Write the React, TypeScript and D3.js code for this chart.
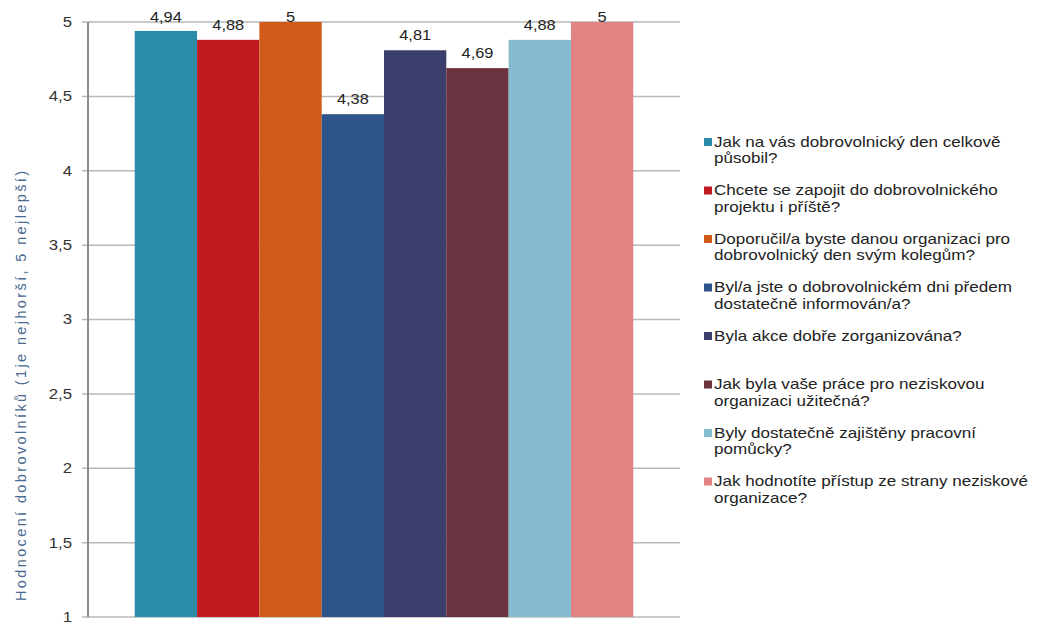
import React from "react";
import * as d3 from "d3";

const categories = [
  "Jak na vás dobrovolnický den celkově působil?",
  "Chcete se zapojit do dobrovolnického projektu i příště?",
  "Doporučil/a byste danou organizaci pro dobrovolnický den svým kolegům?",
  "Byl/a jste o dobrovolnickém dni předem dostatečně informován/a?",
  "Byla akce dobře zorganizována?",
  "Jak byla vaše práce pro neziskovou organizaci užitečná?",
  "Byly dostatečně zajištěny pracovní pomůcky?",
  "Jak hodnotíte přístup ze strany neziskové organizace?",
];
const legendLines = [
  ["Jak na vás dobrovolnický den celkově", "působil?"],
  ["Chcete se zapojit do dobrovolnického", "projektu i příště?"],
  ["Doporučil/a byste danou organizaci pro", "dobrovolnický den svým kolegům?"],
  ["Byl/a jste o dobrovolnickém dni předem", "dostatečně informován/a?"],
  ["Byla akce dobře zorganizována?"],
  ["Jak byla vaše práce pro neziskovou", "organizaci užitečná?"],
  ["Byly dostatečně zajištěny pracovní", "pomůcky?"],
  ["Jak hodnotíte přístup ze strany neziskové", "organizace?"],
];
const values = [4.94, 4.88, 5, 4.38, 4.81, 4.69, 4.88, 5];
const valueLabels = ["4,94", "4,88", "5", "4,38", "4,81", "4,69", "4,88", "5"];
const colors = ["#2a8ca8", "#c0191f", "#d05a17", "#2d558a", "#3c3f6b", "#6b3340", "#85bccf", "#e18383"];
const yTicks = [1, 1.5, 2, 2.5, 3, 3.5, 4, 4.5, 5];
const yTickLabels = ["1", "1,5", "2", "2,5", "3", "3,5", "4", "4,5", "5"];
const yTitle = "Hodnocení dobrovolníků (1je nejhorší, 5 nejlepší)";

function SText({ x, y, sx, anchor, size, fill, children }: any) {
  return (
    <g transform={`translate(${x},${y}) scale(${sx},1)`}>
      <text x={0} y={0} dy="0.35em" textAnchor={anchor} fontSize={size} fill={fill}>{children}</text>
    </g>
  );
}

export default function App() {
  const W = 1043, H = 622;
  const left = 88, right = 680, top = 22, bottom = 617;
  const x = d3.scaleBand<string>().domain(categories).range([left, right]).paddingInner(0).paddingOuter(0.75);
  const y = d3.scaleLinear().domain([1, 5]).range([bottom, top]);
  const font = "Arial, 'Liberation Sans', sans-serif";
  return (
    <svg width={W} height={H} style={{ position: "absolute", left: 0, top: 0, background: "#fff" }} fontFamily={font}>
      {yTicks.map((t, i) => (
        <g key={t}>
          <line x1={left - 6} x2={right} y1={y(t)} y2={y(t)} stroke="#b8b8b8" strokeWidth={1.5} />
          <SText x={72} y={y(t)} sx={1.2} anchor="end" size={14} fill="#333">{yTickLabels[i]}</SText>
        </g>
      ))}
      {categories.map((c, i) => (
        <g key={c}>
          <rect x={x(c)} y={y(values[i])} width={x.bandwidth()} height={y(1) - y(values[i])} fill={colors[i]} />
          <SText x={(x(c) as number) + x.bandwidth() / 2} y={Math.max(17, y(values[i]) - 15)} sx={1.17} anchor="middle" size={14} fill="#222">{valueLabels[i]}</SText>
        </g>
      ))}
      <line x1={left} x2={left} y1={top} y2={bottom} stroke="#8c8c8c" strokeWidth={2} />
      <text transform={`translate(26,386) rotate(-90)`} textAnchor="middle" fontSize={14.5} fill="#4a6a90" textLength={430} lengthAdjust="spacing">{yTitle}</text>
      {legendLines.map((lines, i) => {
        const y0 = 142 + i * 48.5;
        return (
          <g key={i}>
            <rect x={704} y={y0 - 4} width={8} height={8} fill={colors[i]} />
            {lines.map((l, j) => (
              <SText key={j} x={714} y={y0 + j * 16.5} sx={1.22} anchor="start" size={14} fill="#222">{l}</SText>
            ))}
          </g>
        );
      })}
    </svg>
  );
}
